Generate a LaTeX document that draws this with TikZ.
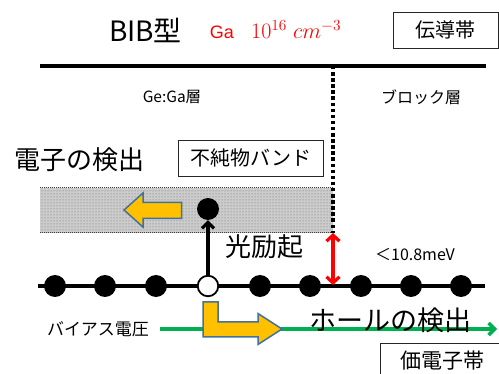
\RequirePackage{fix-cm}
\documentclass[tikz,border=0pt]{standalone}
\usepackage{fontspec}
\setmainfont{Liberation Sans}
\newfontfamily\jp{Noto Sans CJK JP}
\usetikzlibrary{arrows.meta,patterns}
\definecolor{ora}{HTML}{FFC000}
\definecolor{steel}{HTML}{41719C}
\definecolor{grn}{HTML}{00B050}
\newcommand{\fs}[1]{\fontsize{#1}{#1}\selectfont}
\begin{document}
\begin{tikzpicture}[x=1pt,y=-1pt,
  lbl/.style={inner sep=0pt, font=\jp},
  bx/.style={draw=black!85, line width=0.9pt, inner sep=0pt, font=\jp},
  dotb/.style={circle, fill=black, minimum size=22pt, inner sep=0pt},
  doth/.style={circle, draw=black, line width=1.8pt, fill=white, minimum size=20.5pt, inner sep=0pt},
  band/.style={line width=4.5pt},
  fatarrow/.style={fill=ora, draw=steel, line width=1.5pt, line join=miter},
  tip/.style={-{Straight Barb[length=6pt,width=12pt]}},
  dtip/.style={{Straight Barb[length=6pt,width=13pt]}-{Straight Barb[length=6pt,width=13pt]}}
]
\useasboundingbox (0,0) rectangle (499,374);
\fill[white] (0,0) rectangle (499,374);

% titles
\node[lbl] (title) at (145.5,30) {\fs{28}BIB型};
\node[lbl, text=red, font=\fs{18}] (ga) at (222,32) {Ga};
\node[inner sep=0pt, text=red, anchor=west] (conc) at (251,30) {\fs{22}$10^{16}\ cm^{-3}$};
\node[bx, minimum width=105pt, minimum height=36pt] (cb) at (445.5,30) {\fs{20}伝導帯};

% conduction band edge and block layer boundary
\coordinate (tl) at (40,66);
\coordinate (tr) at (486,66);
\draw[band] (tl) -- (tr);

\node[lbl] (gega) at (172,97) {\fs{15.5}Ge:Ga層};
\node[lbl] (block) at (421,97) {\fs{16}ブロック層};

% impurity band
\fill[black!20] (40,188) rectangle (333,233);
\fill[pattern=dots, pattern color=black!60] (40,188) rectangle (333,233);
\draw[black!75, densely dotted, line width=1pt] (40,188) -- (333,188);
\draw[black!75, densely dotted, line width=1pt] (40,233) -- (333,233);

\coordinate (dtop) at (333,66);
\coordinate (dbot) at (333,233);
\draw[line width=3.8pt, dash pattern=on 3.5pt off 2.6pt] (dtop) -- (dbot);

\node[lbl] (edet) at (80,160) {\fs{26}電子の検出};
\node[bx, minimum width=145pt, minimum height=36pt, fill=white] (imp) at (250.5,158) {\fs{20}不純物バンド};

% left arrow in band
\draw[fatarrow] (124,210) -- (143,193) -- (143,202.5) -- (181.5,202.5) -- (181.5,218.5) -- (143,218.5) -- (143,227) -- cycle;

% valence band edge with atoms
\coordinate (bl) at (38,286);
\coordinate (br) at (485,286);
\draw[band] (bl) -- (br);
\foreach \x/\n in {55/a1,105/a2,156/a3,260/a5,310/a6,361/a7,411/a8,461/a9}
  \node[dotb] (\n) at (\x,286) {};
\node[doth] (hole) at (208,286) {};
\node[dotb] (el) at (208,209) {};

% excitation arrow
\draw[line width=3.2pt, tip] (hole) -- (el);
\node[lbl] (exc) at (264,247) {\fs{26}光励起};

% energy gap arrow
\coordinate (gt) at (333,233);
\coordinate (gb) at (333,285);
\draw[red, line width=3.2pt, dtip] (gt) -- (gb);
\node[lbl] (ev) at (415,255) {\fs{16}＜10.8meV};

% bias
\node[lbl] (bias) at (98,329) {\fs{17}バイアス電圧};
\coordinate (gs) at (160,329);
\coordinate (ge) at (497,329);
\draw[grn, line width=3.5pt, tip] (gs) -- (ge);

% L-shaped arrow
\draw[fatarrow] (203,302) -- (218,302) -- (218,322) -- (258,322) -- (258,313.5) -- (282,329) -- (258,344.5) -- (258,337) -- (203,337) -- cycle;

\node[lbl] (hdet) at (390,320) {\fs{27}ホールの検出};
\node[bx, minimum width=140pt, minimum height=40pt, anchor=north west] (vb) at (380,343) {};
\node[lbl] (vbt) at (442,361) {\fs{21}価電子帯};
\end{tikzpicture}
\end{document}
